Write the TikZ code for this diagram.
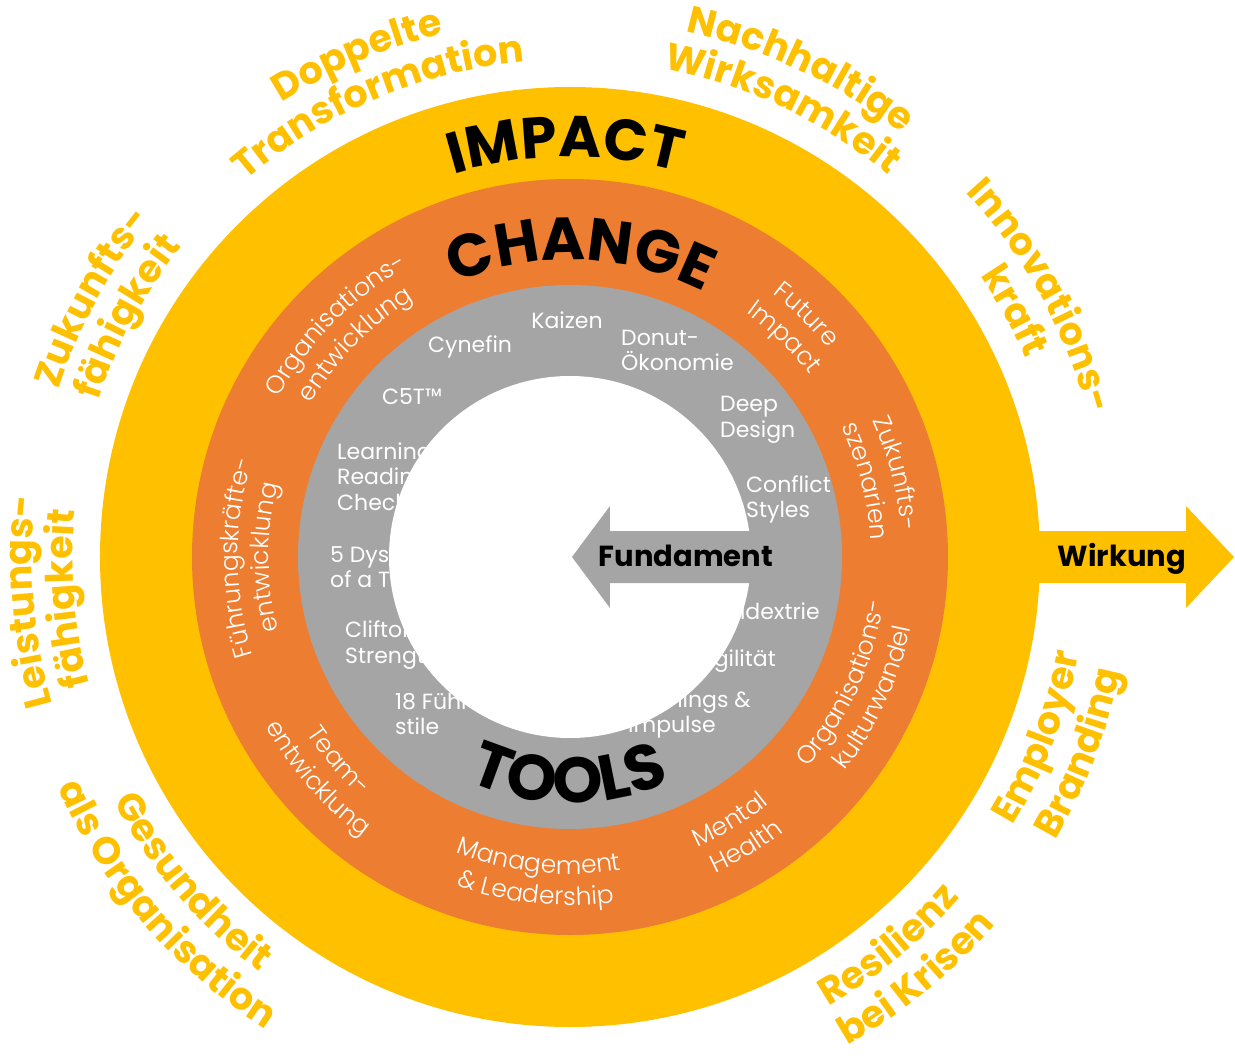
\documentclass[tikz,border=0pt]{standalone}
\usepackage{fontspec}
\setmainfont{Poppins}
\IfFontExistsTF{Poppins Light}{\newfontfamily\plight{Poppins Light}}{\newfontfamily\plight{Poppins}}
\usetikzlibrary{decorations.text}
\definecolor{cyellow}{HTML}{FFC000}
\definecolor{corange}{HTML}{ED7D31}
\definecolor{cgray}{HTML}{A5A5A5}
\newcommand\cwtext[3]{\path[decorate,decoration={text along path,text align=center,text={#3}}] (#1+70:#2) arc[start angle=#1+70,end angle=#1-70,radius=#2];}
\newcommand\ccwtext[3]{\path[decorate,decoration={text along path,text align=center,text={#3}}] (#1-70:#2) arc[start angle=#1-70,end angle=#1+70,radius=#2];}
\newcommand\ylab{\bfseries\fontsize{38}{38}\selectfont\color{cyellow}}
\newcommand\olab{\plight\fontsize{25}{25}\selectfont\color{white}}
\newcommand\tlab[1]{\bfseries\fontsize{#1}{#1}\selectfont\color{black}}
\tikzset{
  glab/.style={text=white, font=\fontsize{22}{25}\selectfont, inner sep=0pt},
  arrlab/.style={text=black, font=\bfseries\fontsize{29}{29}\selectfont, inner sep=0pt, anchor=base}
}
\begin{document}
\begin{tikzpicture}[x=1pt,y=1pt]
\useasboundingbox (-570,-501) rectangle (665,557);
% rings
\fill[cyellow] (0,0) circle[radius=470];
\fill[cyellow] (430,26) -- (616,26) -- (616,51) -- (664,0) -- (616,-51) -- (616,-26) -- (430,-26) -- cycle;
\fill[corange] (0,0) circle[radius=378];
\fill[cgray] (0,0) circle[radius=272];
% tool labels
\node[glab, anchor=base] (kaizen) at (-3,228) {Kaizen};
\node[glab, anchor=base west] (cynefin) at (-142,204) {Cynefin};
\node[glab, anchor=base west] (donut1) at (51,211) {Donut-};
\node[glab, anchor=base west] (donut2) at (51,186) {Ökonomie};
\node[glab, anchor=base west] (c5t) at (-188,152) {C5T™};
\node[glab, anchor=base west] (deep1) at (150,145) {Deep};
\node[glab, anchor=base west] (deep2) at (150,120) {Design};
\node[glab, anchor=base west] (learn1) at (-233,98) {Learning};
\node[glab, anchor=base west] (learn2) at (-233,73) {Readiness};
\node[glab, anchor=base west] (learn3) at (-233,47) {Check};
\node[glab, anchor=base west] (dys1) at (-240,-5) {5 Dysfunctions};
\node[glab, anchor=base west] (dys2) at (-240,-30) {of a Team};
\node[glab, anchor=base west] (clif1) at (-225,-80) {Clifton};
\node[glab, anchor=base west] (clif2) at (-225,-106) {Strengths};
\node[glab, anchor=base west] (fs1) at (-175,-152) {18 Führungs-};
\node[glab, anchor=base west] (fs2) at (-175,-177) {stile};
\node[glab, anchor=base west] (conf1) at (176,65) {Conflict};
\node[glab, anchor=base west] (conf2) at (176,40) {Styles};
\node[glab, anchor=base east] (ambi) at (250,-62) {Ambidextrie};
\node[glab, anchor=base east] (agil) at (206,-109) {Agilität};
\node[glab, anchor=base west] (train1) at (58,-150) {Trainings \&};
\node[glab, anchor=base west] (train2) at (58,-175) {Impulse};
% centre
\fill[white] (0,0) circle[radius=181];
\fill[cgray] (2,0) -- (40,51) -- (40,26) -- (195,26) -- (195,-26) -- (40,-26) -- (40,-51) -- cycle;
\node[arrlab] (fund) at (116,-9) {Fundament};
\node[arrlab] (wirk) at (552,-9) {Wirkung};
% titles
\cwtext{90.6}{400}{|\tlab{58}|IMPACT}
\cwtext{88}{297}{|\tlab{60}|CHANGE}
\ccwtext{269.8}{246}{|\tlab{64}|TOOLS}
% change ring labels
\cwtext{135.3}{332}{|\olab|Organisations-}
\cwtext{135.3}{301}{|\olab|entwicklung}
\cwtext{45.7}{332}{|\olab|Future}
\cwtext{45.7}{301}{|\olab|Impact}
\cwtext{14.4}{332}{|\olab|Zukunfts-}
\cwtext{14.4}{301}{|\olab|szenarien}
\cwtext{180.1}{332}{|\olab|Führungskräfte-}
\cwtext{180.1}{301}{|\olab|entwicklung}
\ccwtext{221.3}{317}{|\olab|Team-}
\ccwtext{221.3}{348}{|\olab|entwicklung}
\ccwtext{264.1}{317}{|\olab|Management}
\ccwtext{264.1}{348}{|\olab|{\&} Leadership}
\ccwtext{-58.7}{317}{|\olab|Mental}
\ccwtext{-58.7}{348}{|\olab|Health}
\ccwtext{-24.8}{317}{|\olab|Organisations-}
\ccwtext{-24.8}{348}{|\olab|kulturwandel}
% outer impact labels
\cwtext{113}{538}{|\ylab|Doppelte}
\cwtext{113}{497}{|\ylab|Transformation}
\cwtext{64.7}{538}{|\ylab|Nachhaltige}
\cwtext{64.7}{497}{|\ylab|Wirksamkeit}
\cwtext{29}{538}{|\ylab|Innovations-}
\cwtext{29}{497}{|\ylab|kraft}
\cwtext{151.5}{538}{|\ylab|Zukunfts-}
\cwtext{151.5}{497}{|\ylab|fähigkeit}
\cwtext{184.7}{538}{|\ylab|Leistungs-}
\cwtext{184.7}{497}{|\ylab|fähigkeit}
\ccwtext{220.7}{518}{|\ylab|Gesundheit}
\ccwtext{220.7}{562}{|\ylab|als Organisation}
\ccwtext{-50.6}{518}{|\ylab|Resilienz}
\ccwtext{-50.6}{562}{|\ylab|bei Krisen}
\ccwtext{-21}{518}{|\ylab|Employer}
\ccwtext{-21}{562}{|\ylab|Branding}
\end{tikzpicture}
\end{document}
